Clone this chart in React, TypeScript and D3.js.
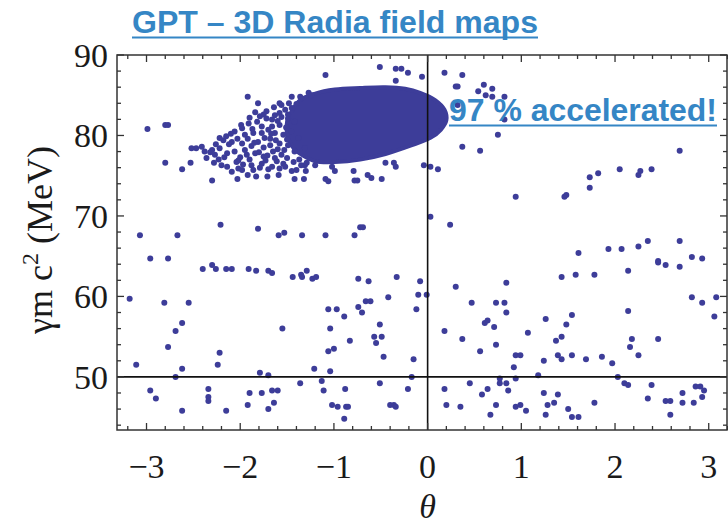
import React from "react";
import * as d3 from "d3";

type Pt = [number, number];

// x: theta, y: gamma m c^2 (MeV)
const xTicks = [-3, -2, -1, 0, 1, 2, 3];
const yTicks = [50, 60, 70, 80, 90];

// Saturated core of the bunch (outline of overlapping points)
const clusterCore: Pt[] = [
  [-1.45, 83.0], [-1.36, 84.4], [-1.2, 85.2], [-0.99, 85.7], [-0.72, 85.9], [-0.45, 86.0],
  [-0.24, 85.8], [-0.08, 85.3], [0.08, 84.4], [0.18, 83.2], [0.2, 81.9], [0.14, 80.7],
  [0.03, 79.7], [-0.19, 78.7], [-0.45, 77.7], [-0.72, 77.0], [-0.99, 76.7], [-1.2, 76.8],
  [-1.33, 77.5], [-1.43, 78.4], [-1.5, 80.1], [-1.5, 81.7],
];

// Tail and fringe of the accelerated bunch
const clusterTail: Pt[] = [
  [-1.72, 82.1], [-1.63, 82.5], [-1.58, 82.8], [-1.52, 83.2], [-1.45, 83.4], [-1.49, 82.1],
  [-1.91, 81.5], [-1.82, 81.7], [-1.77, 81.1], [-1.66, 81.1], [-1.58, 81.3], [-1.42, 81.7],
  [-2.06, 80.5], [-1.98, 80.9], [-1.95, 80.1], [-1.86, 80.3], [-1.74, 79.7], [-1.63, 80.3],
  [-1.54, 80.1], [-1.45, 80.5], [-2.18, 79.4], [-2.09, 79.2], [-1.98, 79.0], [-1.81, 79.2],
  [-1.68, 78.8], [-1.58, 79.0], [-1.49, 78.8], [-1.38, 79.7], [-2.22, 78.4], [-2.14, 77.8],
  [-2.06, 78.0], [-1.95, 78.2], [-1.84, 77.8], [-1.75, 77.4], [-1.65, 78.0], [-1.56, 77.6],
  [-1.42, 78.0], [-1.31, 78.4], [-2.23, 77.0], [-2.14, 76.1], [-2.04, 76.7], [-1.98, 75.7],
  [-1.88, 76.3], [-1.77, 76.5], [-1.66, 76.1], [-1.54, 76.5], [-1.43, 76.7], [-1.31, 76.3],
  [-1.02, 76.1], [-2.27, 77.6], [-2.09, 75.5], [-2.02, 75.9],
  [-2.38, 78.0], [-2.36, 77.2], [-2.28, 76.6], [-2.26, 78.9], [-2.2, 76.3], [-2.17, 77.3],
  [-2.12, 78.9], [-2.15, 79.9], [-2.1, 80.2], [-2.0, 77.3], [-1.97, 76.4], [-2.03, 79.6],
  [-1.99, 81.3], [-2.02, 76.9], [-1.9, 77.0], [-1.88, 78.7], [-1.92, 79.6], [-1.87, 80.8],
  [-1.9, 82.2], [-1.86, 75.7], [-1.79, 76.0], [-1.8, 77.9], [-1.77, 80.3], [-1.79, 82.4],
  [-1.75, 78.5], [-1.72, 83.0], [-1.7, 75.8], [-1.71, 77.5], [-1.68, 79.6], [-1.7, 80.7],
  [-1.66, 82.0], [-1.64, 83.5], [-1.61, 76.8], [-1.6, 78.3], [-1.62, 79.4], [-1.6, 81.8],
  [-1.56, 83.8], [-1.58, 75.9], [-1.52, 76.1], [-1.5, 77.2], [-1.53, 78.2], [-1.5, 79.5],
  [-1.51, 81.0], [-1.49, 82.6], [-1.48, 84.0], [-1.4, 75.7], [-1.37, 77.0], [-1.4, 83.9],
  [-1.35, 76.3], [-1.84, 82.9], [-1.75, 82.6], [-1.56, 82.3], [-1.67, 80.2], [-1.85, 79.1],
  [-2.22, 79.7], [-2.3, 78.2], [-1.93, 77.6], [-1.73, 76.9], [-1.63, 77.2],
];

const clusterOutliers: Pt[] = [
  [-2.99, 80.8], [-2.8, 81.3], [-2.77, 81.3], [-2.8, 76.6], [-2.62, 75.8], [-2.53, 76.6],
  [-2.52, 78.4], [-2.47, 78.4], [-2.41, 78.6], [-2.3, 74.4], [-2.32, 77.9], [-1.92, 84.8],
  [-1.81, 84.0], [-1.58, 84.0], [-1.45, 84.8], [-1.36, 84.8], [-1.27, 85.3], [-1.24, 85.0],
  [-1.09, 87.5], [-0.51, 88.5], [-0.34, 88.3], [-0.28, 88.3], [-0.21, 87.8], [-0.34, 86.8],
  [-0.06, 87.3], [-1.42, 74.6], [-1.32, 74.6], [-1.09, 74.6], [-1.06, 74.3], [-0.78, 74.4],
  [-0.75, 74.4], [-0.64, 75.1], [-0.6, 74.7], [-0.49, 74.6], [-0.45, 76.6], [-0.36, 76.6],
  [-0.34, 76.1], [-0.99, 75.6], [-0.79, 75.6], [-1.2, 76.3], [-1.29, 76.6], [-1.45, 75.6],
  [-1.3, 75.6], [-1.71, 74.9], [-1.83, 74.9], [-1.92, 75.1], [-2.03, 74.6], [-1.59, 75.1],
  [0.18, 87.8], [0.37, 87.5], [0.3, 86.1], [0.32, 86.1], [0.54, 85.5], [0.6, 86.3],
  [0.62, 85.0], [0.69, 85.8], [0.69, 84.8], [0.82, 84.8], [0.32, 83.8], [0.82, 82.0],
  [0.75, 80.1], [0.37, 78.6], [0.56, 78.1], [2.69, 78.1], [-0.04, 76.3], [0.03, 76.1],
  [0.11, 75.8], [1.73, 74.8], [1.82, 75.3], [2.05, 75.8], [2.25, 75.1], [2.27, 75.6],
  [2.39, 75.8],
];

// Scattered (lost) particles, theta < 0
const scatterLeft: Pt[] = [
  [-3.18, 59.7], [-3.07, 67.6], [-2.96, 64.7], [-2.81, 59.2], [-2.77, 64.7], [-2.67, 67.6],
  [-2.55, 59.2], [-2.4, 63.4], [-2.3, 63.9], [-2.26, 63.4], [-2.21, 68.9], [-2.15, 63.4],
  [-2.09, 63.4], [-1.91, 63.4], [-1.83, 63.2], [-1.81, 68.4], [-1.7, 63.2], [-1.66, 62.9],
  [-1.59, 67.6], [-1.53, 67.9], [-1.44, 62.4], [-1.35, 62.7], [-1.34, 62.4], [-1.34, 67.6],
  [-1.29, 63.2], [-1.23, 62.2], [-1.19, 62.4], [-1.09, 67.6], [-1.06, 58.4], [-0.97, 58.4],
  [-0.89, 57.5], [-0.78, 67.6], [-0.74, 58.7], [-0.74, 62.2], [-0.72, 68.6], [-0.69, 68.6],
  [-0.7, 58.0], [-0.66, 59.4], [-0.61, 59.4], [-0.63, 61.9], [-0.42, 59.9], [-0.33, 62.4],
  [-0.12, 58.4], [-0.1, 60.2], [-0.08, 61.9], [-0.01, 60.2],
  [-3.11, 51.5], [-2.96, 48.3], [-2.9, 47.3], [-2.77, 53.7], [-2.69, 55.7], [-2.62, 56.7],
  [-2.69, 50.0], [-2.62, 51.0], [-2.62, 45.8], [-2.34, 48.5], [-2.34, 47.5], [-2.34, 47.0],
  [-2.24, 51.5], [-2.22, 53.0], [-2.15, 45.8], [-1.92, 46.5], [-1.9, 48.0], [-1.79, 50.5],
  [-1.77, 48.0], [-1.7, 50.2], [-1.7, 46.0], [-1.66, 48.3], [-1.64, 46.8], [-1.6, 48.3],
  [-1.55, 56.0], [-1.36, 49.2], [-1.21, 51.0], [-1.13, 49.5], [-1.11, 48.3], [-1.06, 53.2],
  [-1.04, 56.0], [-1.04, 50.7], [-1.02, 46.5], [-1.0, 53.5], [-0.96, 46.3], [-0.89, 44.8],
  [-0.88, 48.5], [-0.87, 46.3], [-0.85, 46.3], [-0.83, 54.5], [-0.57, 55.0], [-0.55, 54.2],
  [-0.51, 56.5], [-0.49, 55.0], [-0.51, 49.2], [-0.47, 52.5], [-0.4, 46.5], [-0.36, 46.5],
  [-0.34, 46.3], [-0.21, 48.5], [-0.17, 50.0], [-0.15, 52.2],
];

// Scattered (lost) particles, theta > 0
const scatterRight: Pt[] = [
  [0.03, 69.9], [0.24, 68.9], [0.94, 72.4], [1.46, 72.4], [1.48, 72.6], [1.73, 73.5],
  [1.61, 65.4], [1.93, 65.9], [2.07, 65.9], [2.25, 66.2], [2.35, 66.9], [2.69, 66.9],
  [2.46, 64.4], [2.46, 64.2], [2.54, 63.9], [2.69, 63.7], [2.82, 64.9], [2.93, 64.7],
  [1.43, 62.4], [1.58, 62.7], [1.78, 62.7], [2.14, 63.2], [0.84, 61.7], [0.3, 61.2],
  [0.47, 59.2], [0.73, 59.2], [0.82, 59.2], [0.84, 58.0], [1.26, 57.2], [1.54, 57.7],
  [2.14, 58.2], [2.82, 59.9], [2.93, 59.2], [3.08, 59.9], [3.06, 57.5],
  [0.18, 55.7], [0.18, 48.5], [0.2, 46.5], [0.37, 54.7], [0.35, 46.3], [0.45, 49.2],
  [0.56, 53.2], [0.58, 47.8], [0.61, 56.7], [0.64, 57.0], [0.64, 48.5], [0.67, 45.3],
  [0.71, 56.2], [0.73, 54.0], [0.73, 46.5], [0.77, 49.8], [0.77, 49.2], [0.84, 49.2],
  [0.86, 48.3], [0.92, 51.2], [0.94, 52.7], [0.99, 52.7], [0.94, 49.8], [0.94, 46.3],
  [0.99, 46.5], [1.05, 45.8], [1.07, 55.5], [1.18, 50.2], [1.24, 52.0], [1.24, 48.0],
  [1.26, 45.3], [1.28, 46.5], [1.35, 46.8], [1.37, 54.5], [1.39, 47.8], [1.39, 52.7],
  [1.43, 52.2], [1.43, 55.0], [1.48, 56.5], [1.5, 46.0], [1.54, 52.7], [1.54, 45.0],
  [1.61, 45.0], [1.69, 52.2], [1.78, 46.8], [1.86, 52.5], [1.97, 51.7], [2.03, 50.0],
  [2.1, 49.2], [2.14, 49.0], [2.16, 53.7], [2.18, 54.7], [2.25, 52.7], [2.35, 47.3],
  [2.39, 49.0], [2.46, 54.7], [2.54, 47.0], [2.59, 47.0], [2.59, 45.3], [2.72, 48.0],
  [2.72, 46.8], [2.84, 46.8], [2.86, 48.8], [2.91, 48.8], [2.95, 48.3], [2.93, 47.5],
];

const W = 728;
const H = 528;
const plot = { left: 117, right: 727, top: 55, bottom: 430 };
const dotColor = "#3d3d99";
const blue = "#3586c5";

export default function App() {
  const x = d3.scaleLinear().domain([-3.315, 3.195]).range([plot.left, plot.right]);
  const y = d3.scaleLinear().domain([43.4, 90]).range([plot.bottom, plot.top]);

  const corePath = d3
    .line<Pt>()
    .x((d) => x(d[0]))
    .y((d) => y(d[1]))
    .curve(d3.curveCatmullRomClosed)(clusterCore) || "";

  const allPoints = [...clusterTail, ...clusterOutliers, ...scatterLeft, ...scatterRight];

  const xMinor = d3.range(-3.2, 3.2001, 0.2).map((v) => Math.round(v * 10) / 10);
  const yMinor = d3.range(44, 90.001, 2);

  const serif = "'Liberation Serif', 'Times New Roman', serif";
  const sans = "'Liberation Sans', Arial, sans-serif";

  return (
    <svg width={W} height={H} style={{ position: "absolute", left: 0, top: 0, background: "#fff" }}>
      {/* title */}
      <text x={132} y={33} fill={blue} fontFamily={sans} fontWeight="bold" fontSize={31}
        textLength={406} lengthAdjust="spacingAndGlyphs">GPT – 3D Radia field maps</text>
      <line x1={132} x2={538} y1={37.5} y2={37.5} stroke={blue} strokeWidth={2} />

      {/* data */}
      <path d={corePath} fill={dotColor} stroke={dotColor} strokeWidth={4} strokeLinejoin="round" />
      {allPoints.map((d, i) => (
        <circle key={i} cx={x(d[0])} cy={y(d[1])} r={3} fill={dotColor} />
      ))}

      {/* zero lines */}
      <line x1={x(0)} x2={x(0)} y1={plot.top} y2={plot.bottom} stroke="#111" strokeWidth={1.6} />
      <line x1={plot.left} x2={plot.right} y1={y(50)} y2={y(50)} stroke="#111" strokeWidth={1.6} />

      {/* frame */}
      <rect x={plot.left} y={plot.top} width={plot.right - plot.left} height={plot.bottom - plot.top}
        fill="none" stroke="#333" strokeWidth={1.5} />

      {/* x ticks */}
      {xMinor.map((v, i) => {
        const major = Math.abs(v - Math.round(v)) < 1e-6;
        const len = major ? 7 : 4;
        return (
          <g key={"xt" + i}>
            <line x1={x(v)} x2={x(v)} y1={plot.bottom} y2={plot.bottom - len} stroke="#333" strokeWidth={1.3} />
            <line x1={x(v)} x2={x(v)} y1={plot.top} y2={plot.top + len} stroke="#333" strokeWidth={1.3} />
          </g>
        );
      })}
      {yMinor.map((v, i) => {
        const major = v % 10 === 0;
        const len = major ? 7 : 4;
        return (
          <g key={"yt" + i}>
            <line x1={plot.left} x2={plot.left + len} y1={y(v)} y2={y(v)} stroke="#333" strokeWidth={1.3} />
            <line x1={plot.right} x2={plot.right - len} y1={y(v)} y2={y(v)} stroke="#333" strokeWidth={1.3} />
          </g>
        );
      })}

      {/* tick labels */}
      {xTicks.map((v) => (
        <text key={"xl" + v} x={x(v)} y={478} textAnchor="middle" fontFamily={serif} fontSize={34} fill="#1a1a1a">
          {v < 0 ? "\u2212" + Math.abs(v) : String(v)}
        </text>
      ))}
      {yTicks.map((v) => (
        <text key={"yl" + v} x={108} y={y(v) + 12} textAnchor="end" fontFamily={serif} fontSize={34} fill="#1a1a1a">
          {v}
        </text>
      ))}

      {/* axis labels */}
      <text x={x(0)} y={518} textAnchor="middle" fontFamily={serif} fontStyle="italic" fontSize={34} fill="#1a1a1a">θ</text>
      <text transform="translate(52,240) rotate(-90)" textAnchor="middle" fontFamily={serif} fontSize={36} fill="#1a1a1a">
        γm c<tspan dy={-14} fontSize={24}>2</tspan><tspan dy={14}> (MeV)</tspan>
      </text>

      {/* annotation */}
      <text x={449} y={121} fill={blue} fontFamily={sans} fontWeight="bold" fontSize={32}
        textLength={268} lengthAdjust="spacingAndGlyphs">97 % accelerated!</text>
      <line x1={449} x2={717} y1={125.5} y2={125.5} stroke={blue} strokeWidth={2} />
    </svg>
  );
}
